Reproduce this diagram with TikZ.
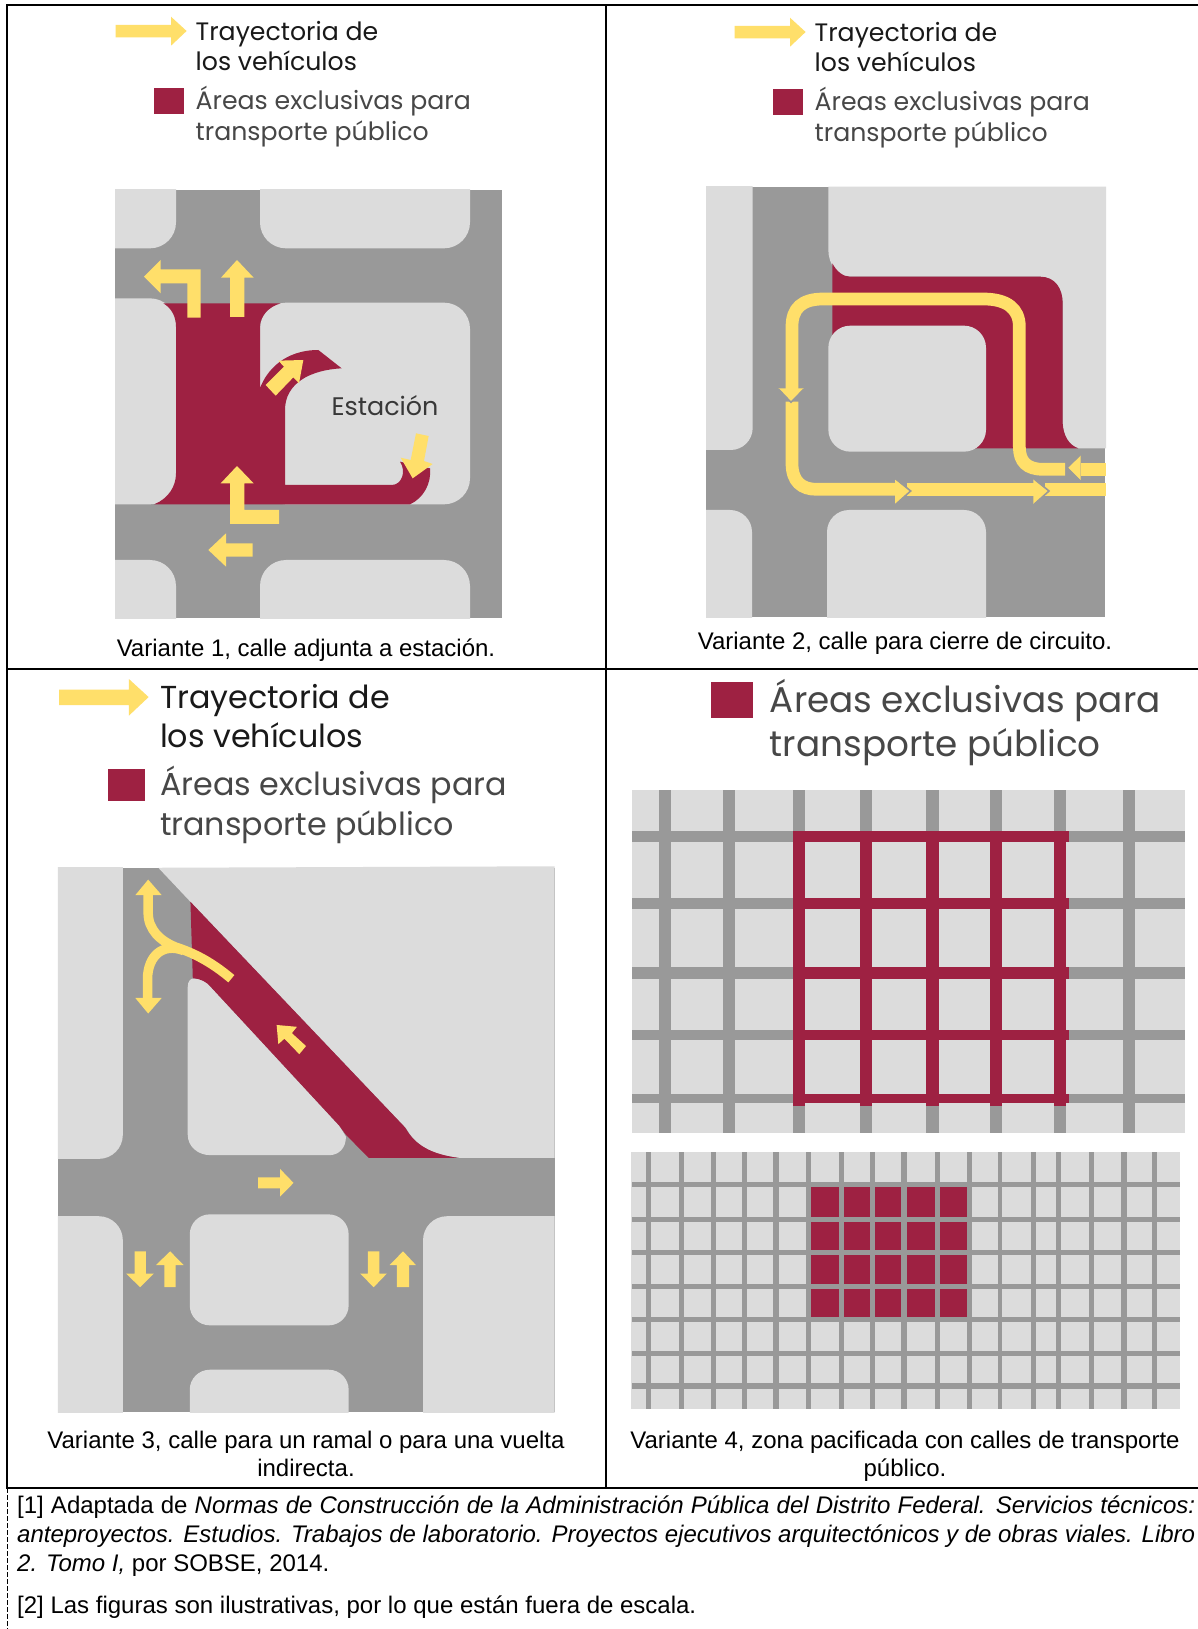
\documentclass[tikz,border=0pt]{standalone}
\usepackage{fontspec}
\setmainfont{Liberation Sans}
\newfontfamily\legfont{Poppins}
\definecolor{crim}{HTML}{9E2142}
\definecolor{yel}{HTML}{FFDF6A}
\definecolor{road}{HTML}{999999}
\definecolor{lot}{HTML}{DCDCDC}
\tikzset{
  frameline/.style={draw=black,line width=1.6pt},
  yf/.style={fill=yel},
  cf/.style={fill=crim},
  lotf/.style={fill=lot},
  roadf/.style={fill=road},
  route/.style={draw=yel,line width=12.7pt},
  route3/.style={draw=yel,line width=9.5pt},
  captxt/.style={font=\fontsize{24}{24}\selectfont,inner sep=0pt,anchor=base},
  foot/.style={font=\fontsize{24}{24}\selectfont,inner sep=0pt,anchor=base west},
  legdark/.style={font=\legfont\fontsize{25.2}{24}\selectfont,inner sep=0pt,anchor=base west,text=black!90},
  leggray/.style={font=\legfont\fontsize{25.2}{24}\selectfont,inner sep=0pt,anchor=base west,text=black!72},
  notch/.style={draw=road,line width=1.6pt},
}
\newcommand{\legtraj}{%
  \fill[yf] (115.5,25) -- (171,25) -- (171,16.7) -- (186.6,31) -- (171,45.7) -- (171,37.3) -- (115.5,37.3) -- cycle;
  \node[legdark] at (195.5,40.3) {Trayectoria de};
  \node[legdark] at (195.5,71) {los vehículos};}
\newcommand{\legarea}{%
  \fill[cf] (154,87.7) rectangle (184,113.7);
  \node[leggray] at (195.5,109.3) {Áreas exclusivas para};
  \node[leggray] at (195.5,140.5) {transporte público};}
\begin{document}
\begin{tikzpicture}[x=1pt,y=-1pt]
\useasboundingbox (0,0) rectangle (1198,1629);
\fill[white] (0,0) rectangle (1198,1629);

% ---- legends
\begin{scope}\legtraj\legarea\end{scope}
\begin{scope}[shift={(619,1)}]\legtraj\legarea\end{scope}
\begin{scope}[shift={(-86.5,658)},scale=1.26,transform shape]\legtraj\legarea\end{scope}
\begin{scope}[shift={(492,557)},scale=1.42,transform shape]\legarea\end{scope}

% ---- panel 1
\begin{scope}[shift={(100,170)},xscale=0.33333,yscale=0.33333]
\fill[roadf] (45,60) rectangle (1207,1345);
\begin{scope}
\clip (45,60) rectangle (1207,1345);
\fill[lotf,rounded corners=26pt] (-200,-200) rectangle (228,235);
\fill[lotf,rounded corners=26pt] (480,-200) rectangle (1110,235);
\fill[lotf,rounded corners=26pt] (-200,385) rectangle (228,1003);
\fill[lotf,rounded corners=26pt] (480,398) rectangle (1110,1003);
\fill[lotf,rounded corners=26pt] (-200,1170) rectangle (228,1600);
\fill[lotf,rounded corners=26pt] (480,1170) rectangle (1110,1600);
\end{scope}
\fill[cf] (190,400) -- (542,400) .. controls (505,410) and (480,440) .. (480,470) -- (480,655)
  .. controls (500,600) and (555,540) .. (655,540) -- (725,595)
  .. controls (630,600) and (555,640) .. (555,720) -- (555,945) -- (875,945)
  .. controls (905,945) and (920,905) .. (900,875) -- (990,895)
  .. controls (995,940) and (970,985) .. (930,1003) -- (163,1003)
  .. controls (205,985) and (228,950) .. (228,910) -- (228,470)
  .. controls (228,440) and (215,415) .. (190,400) -- cycle;
\fill[yf] (132,320) -- (182,270) -- (182,298) -- (302,298) -- (302,443) -- (262,443) -- (262,340) -- (182,340) -- (182,370) -- cycle;
\fill[yf] (411,270) -- (461,323) -- (433,323) -- (433,441) -- (390,441) -- (390,323) -- (363,323) -- cycle;
\fill[yf] (411,888) -- (461,940) -- (433,940) -- (433,1020) -- (537,1020) -- (537,1062) -- (390,1062) -- (390,940) -- (362,940) -- cycle;
\fill[yf] (325,1140) -- (378,1090) -- (378,1120) -- (458,1120) -- (458,1160) -- (378,1160) -- (378,1190) -- cycle;
\fill[yf] (610,570) -- (597,640) -- (580,622) -- (527,677) -- (497,645) -- (552,590) -- (535,572) -- cycle;
\fill[yf] (948,790) -- (986,798) -- (972,873) -- (998,882) -- (938,925) -- (902,863) -- (932,870) -- cycle;
\node[font=\legfont\fontsize{25.4}{24}\selectfont,text=black!78,inner sep=0pt,anchor=base] (estacion) at (855,736) {Estación};
\end{scope}
\node[captxt] (cap1) at (306,656) {Variante 1, calle adjunta a estación.};

% ---- panel 2
\begin{scope}[shift={(690,170)},xscale=0.33333,yscale=0.33333]
\fill[roadf] (48,50) rectangle (1245,1342);
\fill[lotf] (415,50) -- (415,240) .. controls (415,285) and (445,320) .. (480,320) -- (1050,320)
 .. controls (1095,320) and (1118,355) .. (1118,400) -- (1118,760) .. controls (1120,795) and (1135,825) .. (1165,835) -- (1248,835) -- (1248,50) -- cycle;
\begin{scope}
\clip (48,50) rectangle (1248,1342);
\fill[lotf,rounded corners=22pt] (-200,-200) rectangle (188,840);
\fill[lotf,rounded corners=22pt] (-200,1020) rectangle (186,1600);
\fill[lotf,rounded corners=22pt] (411,1020) rectangle (888,1600);
\end{scope}
\fill[cf] (427,280) .. controls (440,305) and (460,320) .. (480,320) -- (1050,320)
 .. controls (1095,320) and (1118,355) .. (1118,400) -- (1118,760) .. controls (1120,795) and (1135,825) .. (1165,835)
 -- (845,835) -- (845,600) -- (427,520) -- cycle;
\fill[lotf,rounded corners=22pt] (415,467) rectangle (888,845);
\draw[route] (1125,898) -- (1060,898) .. controls (1010,898) and (988,875) .. (988,830) -- (988,470)
  .. controls (988,415) and (950,387) .. (880,387) -- (400,387) .. controls (335,387) and (306,415) .. (306,470) -- (306,660);
\draw[route] (306,695) -- (306,880) .. controls (306,935) and (335,958) .. (380,958) -- (620,958);
\draw[route] (650,958) -- (1035,958);
\draw[route] (1065,958) -- (1248,958);
\draw[route] (1172,898) -- (1248,898);
\fill[yf] (265,655) -- (342,655) -- (303,695) -- cycle;
\draw[notch] (265,657) -- (303,697) -- (342,657);
\fill[yf] (615,927) -- (660,963) -- (615,1003) -- cycle;
\draw[notch] (615,925) -- (662,963) -- (615,1005);
\fill[yf] (1030,927) -- (1075,963) -- (1030,1003) -- cycle;
\draw[notch] (1030,925) -- (1077,963) -- (1030,1005);
\fill[yf] (1172,855) -- (1133,893) -- (1172,932) -- cycle;
\draw[notch] (1172,853) -- (1131,893) -- (1172,934);
\end{scope}
\node[captxt] (cap2) at (905,649) {Variante 2, calle para cierre de circuito.};

% ---- panel 3
\begin{scope}[shift={(40,850)},xscale=0.33806,yscale=0.36990]
\fill[roadf] (53,48) rectangle (1522,1520);
\begin{scope}
\clip (53,48) rectangle (1522,1520);
\fill[lotf,rounded corners=24pt] (-200,-200) rectangle (245,835);
\fill[lotf,rounded corners=24pt] (-200,990) rectangle (245,1800);
\fill[lotf,rounded corners=20pt] (443,985) rectangle (913,1285);
\fill[lotf,rounded corners=20pt] (443,1405) rectangle (913,1800);
\fill[lotf,rounded corners=24pt] (1133,990) rectangle (1800,1800);
\end{scope}
\fill[lotf] (350,48) -- (1522,44) -- (1522,832) -- (1240,832) .. controls (1170,825) and (1115,805) .. (1085,755) -- (445,140) -- cycle;
\fill[lotf] (455,347) .. controls (480,347) and (495,358) .. (505,370) -- (885,745) -- (905,775)
  .. controls (905,805) and (885,825) .. (855,825) -- (505,825) .. controls (465,825) and (437,800) .. (437,770) -- (437,370) .. controls (437,355) and (445,347) .. (455,347) -- cycle;
\fill[cf] (445,140) -- (1080,750) .. controls (1110,800) and (1160,822) .. (1235,832) -- (972,832) -- (905,770) -- (885,745)
  -- (505,370) .. controls (495,358) and (475,347) .. (452,347) -- cycle;
\draw[route3] (566,348) .. controls (510,305) and (460,280) .. (400,262) .. controls (355,245) and (320,215) .. (320,170) -- (320,120);
\draw[route3] (425,272) .. controls (365,250) and (318,285) .. (318,350) -- (318,402);
\fill[yf] (320,80) -- (360,122) -- (282,122) -- cycle;
\fill[yf] (320,442) -- (282,400) -- (360,400) -- cycle;
\fill[yf] (700,473) -- (760,478) -- (745,495) -- (787,530) -- (767,552) -- (723,510) -- (705,525) -- cycle;
\fill[yf] (645,885) -- (710,885) -- (710,862) -- (750,900) -- (710,937) -- (710,915) -- (645,915) -- cycle;
\fill[yf] (280,1085) -- (313,1085) -- (313,1145) -- (337,1145) -- (296,1182) -- (255,1145) -- (280,1145) -- cycle;
\fill[yf] (368,1182) -- (401,1182) -- (401,1122) -- (425,1122) -- (385,1085) -- (343,1122) -- (368,1122) -- cycle;
\fill[yf] (970,1085) -- (1004,1085) -- (1004,1145) -- (1026,1145) -- (987,1182) -- (947,1145) -- (970,1145) -- cycle;
\fill[yf] (1056,1182) -- (1092,1182) -- (1092,1122) -- (1112,1122) -- (1074,1085) -- (1034,1122) -- (1056,1122) -- cycle;
\end{scope}
\node[captxt] (cap3a) at (306,1448) {Variante 3, calle para un ramal o para una vuelta};
\node[captxt] (cap3b) at (306,1476.5) {indirecta.};

% ---- panel 4
\begin{scope}[shift={(620,780)},xscale=0.36862,yscale=0.40816]
% upper map
\fill[lotf] (33,25) rectangle (1532,865);
\foreach \a/\b in {107/139,279/312,469/502,650/683,831/864,1004/1037,1176/1209,1365/1398}
  \fill[roadf] (\a,25) rectangle (\b,865);
\foreach \a/\b in {125/153,288/316,459/487,613/636,770/791}
  \fill[roadf] (33,\a) rectangle (1532,\b);
\foreach \a/\b in {469/502,650/683,831/864,1004/1037,1176/1209}
  \fill[cf] (\a,125) rectangle (\b,799);
\foreach \a/\b in {125/153,288/316,459/487,613/636,770/791}
  \fill[cf] (469,\a) rectangle (1217,\b);
% lower map
\fill[lotf] (30,912) rectangle (1520,1540);
\foreach \a/\b in {70/85,161/174,247/261,330/345,415/430,505/518,594/607,677/692,762/778,855/869,942/955,1025/1037,1115/1129,1183/1197,1272/1287,1360/1375,1444/1458}
  \fill[roadf] (\a,912) rectangle (\b,1540);
\foreach \a/\b in {986/998,1071/1083,1151/1163,1235/1247,1315/1328,1398/1410,1477/1491}
  \fill[roadf] (33,\a) rectangle (1520,\b);
\foreach \a/\b in {518/594,607/677,692/762,778/855,869/942}
  \foreach \c/\d in {998/1071,1083/1151,1163/1235,1247/1315}
    \fill[cf] (\a,\c) rectangle (\b,\d);
\end{scope}
\node[captxt] (cap4a) at (905,1448) {Variante 4, zona pacificada con calles de transporte};
\node[captxt] (cap4b) at (905,1476.5) {público.};

% ---- footnotes
\node[foot] (f1) at (17,1513) {\makebox[1178pt][s]{[1] Adaptada de \textit{Normas de Construcción de la Administración Pública del Distrito Federal. Servicios técnicos:}}};
\node[foot] (f2) at (17,1542) {\makebox[1178pt][s]{\textit{anteproyectos. Estudios. Trabajos de laboratorio. Proyectos ejecutivos arquitectónicos y de obras viales. Libro}}};
\node[foot] (f3) at (17,1571) {\textit{2. Tomo I,} por SOBSE, 2014.};
\node[foot] (f4) at (17,1613) {[2] Las figuras son ilustrativas, por lo que están fuera de escala.};

% ---- frame
\coordinate (tl) at (7,5);
\coordinate (tr) at (1198,5);
\coordinate (ml) at (7,669);
\coordinate (mr) at (1198,669);
\coordinate (bl) at (7,1488);
\coordinate (br) at (1198,1488);
\coordinate (tm) at (606,5);
\coordinate (bm) at (606,1488);
\coordinate (end) at (7,1629);
\draw[frameline] (tr) -- (tl) -- (bl) -- (br);
\draw[frameline] (tm) -- (bm);
\draw[frameline] (ml) -- (mr);
\draw[black,line width=0.9pt,dash pattern=on 5pt off 2pt] (bl) -- (end);
\end{tikzpicture}
\end{document}
